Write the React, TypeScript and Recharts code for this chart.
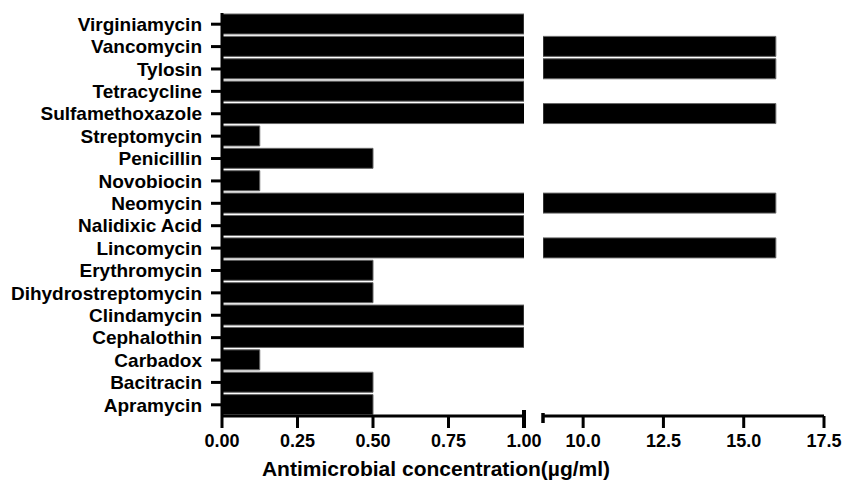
import React from 'react';
import { BarChart, Bar, XAxis, YAxis } from 'recharts';

const antimicrobials = [
  'Virginiamycin',
  'Vancomycin',
  'Tylosin',
  'Tetracycline',
  'Sulfamethoxazole',
  'Streptomycin',
  'Penicillin',
  'Novobiocin',
  'Neomycin',
  'Nalidixic Acid',
  'Lincomycin',
  'Erythromycin',
  'Dihydrostreptomycin',
  'Clindamycin',
  'Cephalothin',
  'Carbadox',
  'Bacitracin',
  'Apramycin',
];
const concentration = [1, 16, 16, 1, 16, 0.125, 0.5, 0.125, 16, 1, 16, 0.5, 0.5, 1, 1, 0.125, 0.5, 0.5];

const lowTicks = [0, 0.25, 0.5, 0.75, 1];
const highTicks = [8.75, 10, 12.5, 15, 17.5];
const lowDomain: [number, number] = [0, 1];
const highDomain: [number, number] = [8.75, 17.5];
const axisTitle = 'Antimicrobial concentration(µg/ml)';

const data = antimicrobials.map((name, i) => ({ name, value: concentration[i] }));

const FONT = '"Liberation Sans", Arial, Helvetica, sans-serif';
const TICK_SIZE = 12;
const TICK_MARGIN = 6;
const CHART_H = 482;
const MARGIN_TOP = 13;
const AXIS_H = 40;
const MARGIN_BOTTOM = 66 - AXIS_H;

function makeTick(kind: 'low' | 'high') {
  return (props: any) => {
    const { x, y, payload } = props;
    const v = payload.value as number;
    const axisY = y - TICK_SIZE - TICK_MARGIN;
    let mark: React.ReactNode;
    let label = '';
    if (kind === 'low') {
      label = v.toFixed(2);
      if (v === lowDomain[1]) {
        mark = <line x1={x} x2={x} y1={axisY - 6} y2={axisY + TICK_SIZE} stroke="#000" strokeWidth={4} />;
      } else {
        mark = <line x1={x} x2={x} y1={axisY} y2={axisY + TICK_SIZE} stroke="#000" strokeWidth={3} />;
      }
    } else {
      if (v === highDomain[0]) {
        label = '';
        mark = <line x1={x} x2={x} y1={axisY - 3} y2={axisY + 7} stroke="#000" strokeWidth={3.5} />;
      } else {
        label = v.toFixed(1);
        mark = <line x1={x} x2={x} y1={axisY} y2={axisY + TICK_SIZE} stroke="#000" strokeWidth={3} />;
      }
    }
    return (
      <g>
        {mark}
        <text
          x={x}
          y={y}
          dy="0.71em"
          textAnchor="middle"
          fill="#000"
          fontFamily={FONT}
          fontWeight="bold"
          fontSize={18}
        >
          {label}
        </text>
      </g>
    );
  };
}

const LowTick = makeTick('low');
const HighTick = makeTick('high');

export default function App() {
  return (
    <div style={{ position: 'absolute', left: 0, top: 0, width: 844, height: 482, background: '#fff' }}>
      <div style={{ position: 'absolute', left: 0, top: 0 }}>
        <BarChart
          width={544}
          height={CHART_H}
          data={data}
          layout="vertical"
          margin={{ top: MARGIN_TOP, right: 20, bottom: MARGIN_BOTTOM, left: 0 }}
          style={{ overflow: 'visible' }}
        >
          <XAxis
            type="number"
            domain={lowDomain}
            ticks={lowTicks}
            interval={0}
            allowDataOverflow
            axisLine={{ stroke: '#000', strokeWidth: 3 }}
            tickLine={false}
            tickSize={TICK_SIZE}
            tickMargin={TICK_MARGIN}
            tick={LowTick}
            height={AXIS_H}
          />
          <YAxis
            type="category"
            dataKey="name"
            width={222}
            interval={0}
            axisLine={{ stroke: '#000', strokeWidth: 3 }}
            tickLine={{ stroke: '#000', strokeWidth: 3 }}
            tickSize={11}
            tickMargin={9}
            tick={{ fill: '#000', fontFamily: FONT, fontWeight: 'bold', fontSize: 19 }}
          />
          <Bar
            dataKey="value"
            fill="#000"
            stroke="#666"
            strokeWidth={1}
            barSize={20}
            isAnimationActive={false}
          />
        </BarChart>
      </div>
      <div style={{ position: 'absolute', left: 530, top: 0 }}>
        <BarChart
          width={314}
          height={CHART_H}
          data={data}
          layout="vertical"
          margin={{ top: MARGIN_TOP, right: 20, bottom: MARGIN_BOTTOM, left: 13 }}
        >
          <XAxis
            type="number"
            domain={highDomain}
            ticks={highTicks}
            interval={0}
            allowDataOverflow
            axisLine={{ stroke: '#000', strokeWidth: 3 }}
            tickLine={false}
            tickSize={TICK_SIZE}
            tickMargin={TICK_MARGIN}
            tick={HighTick}
            height={AXIS_H}
          />
          <YAxis type="category" dataKey="name" hide />
          <Bar
            dataKey={(d: any) => (d.value > lowDomain[1] ? d.value : null)}
            fill="#000"
            stroke="#666"
            strokeWidth={1}
            barSize={20}
            isAnimationActive={false}
          />
        </BarChart>
      </div>
      <svg
        width={844}
        height={482}
        style={{ position: 'absolute', left: 0, top: 0, pointerEvents: 'none' }}
      >
        <text
          x={436}
          y={476}
          textAnchor="middle"
          fill="#000"
          fontFamily={FONT}
          fontWeight="bold"
          fontSize={21}
        >
          {axisTitle}
        </text>
      </svg>
    </div>
  );
}
